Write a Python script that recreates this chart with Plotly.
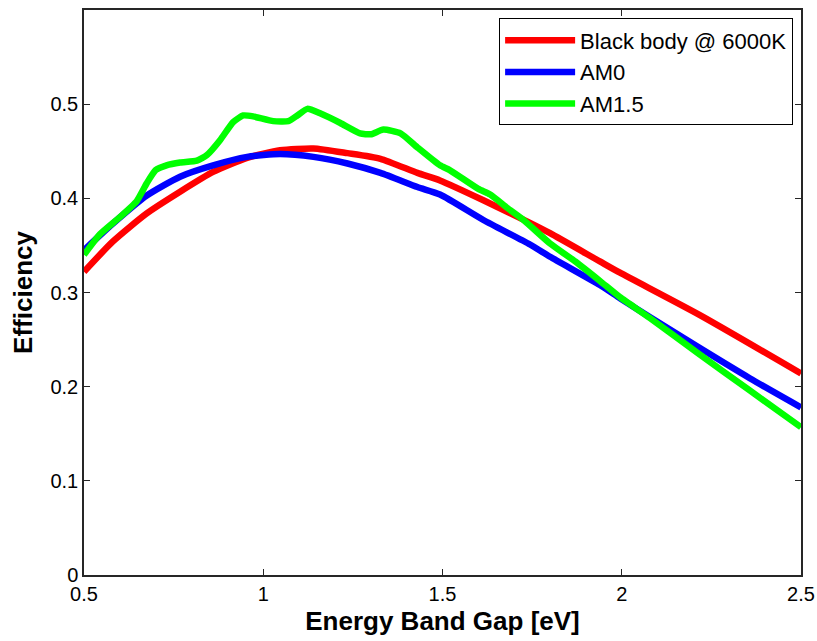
import plotly.graph_objects as go

# Black body @ 6000K
bb_x = [0.5, 0.58, 0.675, 0.768, 0.86, 0.955, 1.047, 1.14, 1.235, 1.327, 1.43, 1.493,
        1.614, 1.744, 1.80, 1.939, 1.995, 2.218, 2.5]
bb_y = [0.322, 0.354, 0.384, 0.407, 0.428, 0.443, 0.451, 0.453, 0.448, 0.442, 0.427, 0.419,
        0.398, 0.374, 0.363, 0.333, 0.321, 0.276, 0.214]

# AM0
am0_x = [0.5, 0.58, 0.675, 0.768, 0.86, 0.955, 1.047, 1.14, 1.235, 1.327, 1.43, 1.493,
         1.614, 1.744, 1.80, 1.939, 1.995, 2.078, 2.218, 2.357, 2.5]
am0_y = [0.345, 0.373, 0.403, 0.423, 0.435, 0.444, 0.447, 0.444, 0.437, 0.427, 0.412, 0.404,
         0.377, 0.351, 0.338, 0.308, 0.294, 0.274, 0.241, 0.209, 0.178]

# AM1.5
am15_x = [0.5, 0.545, 0.60, 0.647, 0.675, 0.70, 0.73, 0.768, 0.815, 0.843, 0.88, 0.916,
          0.944, 0.972, 1.028, 1.07, 1.095, 1.123, 1.16, 1.215, 1.27, 1.30, 1.335, 1.383,
          1.43, 1.493, 1.52, 1.60, 1.633, 1.68, 1.726, 1.80, 1.87, 1.94, 1.995, 2.078,
          2.218, 2.357, 2.5]
am15_y = [0.340, 0.362, 0.380, 0.397, 0.416, 0.430, 0.435, 0.438, 0.440, 0.446, 0.462, 0.481,
          0.488, 0.487, 0.482, 0.482, 0.488, 0.495, 0.490, 0.480, 0.469, 0.468, 0.473, 0.469,
          0.454, 0.435, 0.430, 0.410, 0.404, 0.390, 0.377, 0.352, 0.333, 0.312, 0.295, 0.273,
          0.234, 0.196, 0.157]

x_ticks = [0.5, 1, 1.5, 2, 2.5]
x_tick_labels = ["0.5", "1", "1.5", "2", "2.5"]
y_ticks = [0, 0.1, 0.2, 0.3, 0.4, 0.5]
y_tick_labels = ["0", "0.1", "0.2", "0.3", "0.4", "0.5"]

FONT = "Liberation Sans, Arial, Helvetica, sans-serif"

fig = go.Figure()
fig.add_trace(go.Scatter(x=bb_x, y=bb_y, mode="lines", name="Black body @ 6000K",
                         line=dict(color="#FF0000", width=6.5, shape="spline", smoothing=0.6)))
fig.add_trace(go.Scatter(x=am0_x, y=am0_y, mode="lines", name="AM0",
                         line=dict(color="#0000FF", width=6.5, shape="spline", smoothing=0.6)))
fig.add_trace(go.Scatter(x=am15_x, y=am15_y, mode="lines", name="AM1.5",
                         line=dict(color="#00FF00", width=6.5, shape="spline", smoothing=0.5)))

axis_common = dict(showline=True, linecolor="#262626", linewidth=1.5, mirror="ticks",
                   ticks="inside", ticklen=6, tickcolor="#262626", tickwidth=1,
                   showgrid=False, zeroline=False, automargin=False,
                   tickfont=dict(family=FONT, size=20, color="#000000"))

fig.update_xaxes(range=[0.5, 2.5], tickvals=x_ticks, ticktext=x_tick_labels,
                 title=dict(text="<b>Energy Band Gap [eV]</b>", standoff=8,
                            font=dict(family=FONT, size=26, color="#000000")),
                 **axis_common)
fig.update_yaxes(range=[0, 0.6], tickvals=y_ticks, ticktext=y_tick_labels,
                 title=dict(text="<b>Efficiency</b>", standoff=10,
                            font=dict(family=FONT, size=26, color="#000000")),
                 **axis_common)

fig.update_layout(
    width=817, height=641,
    margin=dict(l=84, r=16, t=10, b=66),
    plot_bgcolor="white", paper_bgcolor="white",
    legend=dict(x=0.989, y=0.985, xanchor="right", yanchor="top",
                bordercolor="#000000", borderwidth=1, bgcolor="white",
                font=dict(family=FONT, size=22, color="#000000"),
                itemwidth=70, tracegroupgap=0),
    showlegend=True,
)

fig.write_html("out.html")
